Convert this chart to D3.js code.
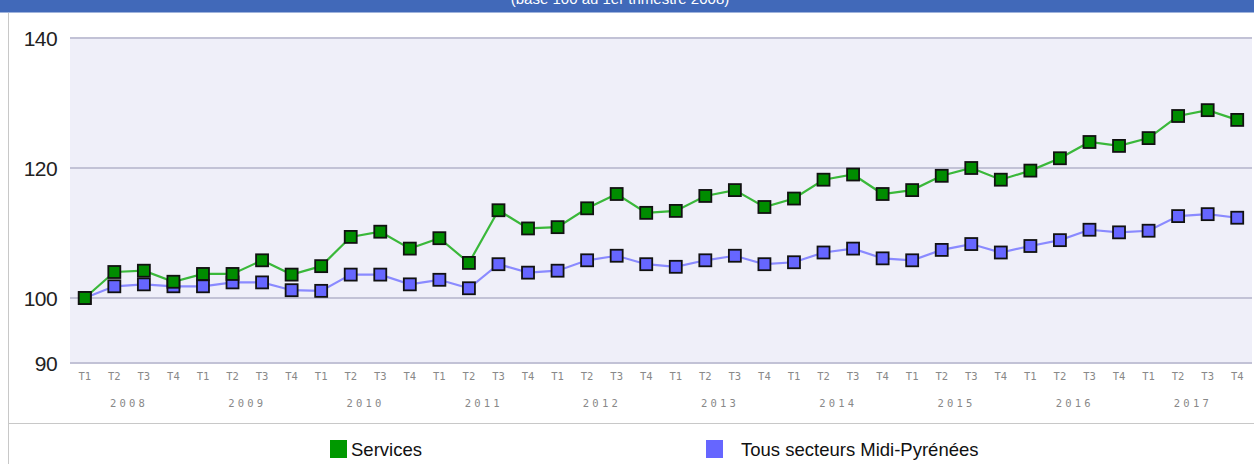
<!DOCTYPE html>
<html><head><meta charset="utf-8">
<script src="https://cdn.jsdelivr.net/npm/d3@7"></script>
<style>body{margin:0;background:#fff;}svg{display:block;}</style>
</head><body>
<svg id="c" width="1254" height="464"></svg>
<script>
const years = ["2008","2009","2010","2011","2012","2013","2014","2015","2016","2017"];
const quarters = ["T1","T2","T3","T4"];
const yTicks = [90,100,120,140];
const seriesNames = ["Services","Tous secteurs Midi-Pyrénées"];
const services = [100,104.0,104.2,102.5, 103.7,103.7,105.8,103.6, 104.9,109.4,110.2,107.6,
  109.2,105.4,113.5,110.7, 110.9,113.8,116.0,113.1, 113.4,115.7,116.6,114.0,
  115.3,118.2,119.0,116.0, 116.6,118.8,120.0,118.2, 119.6,121.5,124.0,123.4,
  124.6,128.0,128.9,127.4];
const tous = [100,101.8,102.1,101.8, 101.8,102.4,102.4,101.2, 101.1,103.6,103.6,102.1,
  102.8,101.5,105.2,103.9, 104.2,105.8,106.5,105.2, 104.8,105.8,106.5,105.2,
  105.5,107.0,107.6,106.1, 105.8,107.4,108.3,107.0, 108.0,108.9,110.5,110.1,
  110.35,112.6,112.9,112.35];
const title = "(base 100 au 1er trimestre 2008)";

const cats = [];
years.forEach(y => quarters.forEach(q => cats.push(y + "-" + q)));

const svg = d3.select("#c");
const W = 1254;
const L = 70, R = 1252, T = 38, B = 363;

// header
svg.append("rect").attr("x",0).attr("y",0).attr("width",W).attr("height",12).attr("fill","#4169b9");
svg.append("line").attr("x1",0).attr("x2",W).attr("y1",12.5).attr("y2",12.5).attr("stroke","#9fb3dc").attr("stroke-width",1);
svg.append("text").attr("x",620).attr("y",4).attr("text-anchor","middle")
  .attr("font-family","Liberation Sans, Arial, sans-serif").attr("font-size",15).attr("fill","#fff").text(title);

// borders
svg.append("line").attr("x1",8.5).attr("x2",8.5).attr("y1",13).attr("y2",464).attr("stroke","#c8c8c8");
svg.append("line").attr("x1",8).attr("x2",W).attr("y1",423.5).attr("y2",423.5).attr("stroke","#c8c8c8");

const x = d3.scaleBand().domain(cats).range([L, R]);
const y = d3.scaleLinear().domain([90,140]).range([B, T]);

svg.append("rect").attr("x",L).attr("y",T).attr("width",R-L).attr("height",B-T).attr("fill","#efeff9");

// grid
svg.append("g").selectAll("line").data(yTicks).join("line")
  .attr("x1",L).attr("x2",R).attr("y1",d=>y(d)).attr("y2",d=>y(d))
  .attr("stroke","#c2c2d6").attr("stroke-width",2);

// y labels
const yAxis = d3.axisLeft(y).tickValues(yTicks).tickSize(0).tickPadding(0);
const gy = svg.append("g").attr("transform",`translate(${L-13},0)`).call(yAxis);
gy.select(".domain").remove();
gy.selectAll("text").attr("font-family","Liberation Sans, Arial, sans-serif").attr("font-size",21)
  .attr("letter-spacing","-0.6").attr("fill","#222").attr("dy","0.35em");

// x labels
const xAxis = d3.axisBottom(x).tickSize(0).tickPadding(0).tickFormat(d => d.split("-")[1]);
const gx = svg.append("g").attr("transform",`translate(0,${B+13})`).call(xAxis);
gx.select(".domain").remove();
gx.selectAll("text").attr("font-family","DejaVu Sans Mono, monospace").attr("font-size",10.5).attr("fill","#888").attr("dy","0.35em");

svg.append("g").selectAll("text").data(years).join("text")
  .attr("x", d => (x(d+"-T2") + x(d+"-T3"))/2 + x.bandwidth()/2)
  .attr("y", 407)
  .attr("text-anchor","middle")
  .attr("font-family","DejaVu Sans Mono, monospace").attr("font-size",10.5).attr("fill","#888")
  .attr("letter-spacing","3.2")
  .text(d=>d);

const cx = i => x(cats[i]) + x.bandwidth()/2;
const line = d3.line().x((d,i)=>cx(i)).y(d=>y(d));

const series = [
  {vals: tous, line:"#8a8aff", fill:"#6666ff"},
  {vals: services, line:"#3ab83a", fill:"#008c00"}
];
series.forEach(s => {
  svg.append("path").datum(s.vals).attr("d",line).attr("fill","none")
    .attr("stroke",s.line).attr("stroke-width",2.2);
});
series.forEach(s => {
  svg.append("g").selectAll("rect").data(s.vals).join("rect")
    .attr("x",(d,i)=>cx(i)-6).attr("y",d=>y(d)-6).attr("width",12).attr("height",12)
    .attr("fill",s.fill).attr("stroke","#111").attr("stroke-width",1.8);
});

// legend
const leg = [
  {name: seriesNames[0], fill:"#009900", x:330, tx:351},
  {name: seriesNames[1], fill:"#6666ff", x:706, tx:741}
];
leg.forEach(l => {
  svg.append("rect").attr("x",l.x).attr("y",440).attr("width",17).attr("height",18).attr("fill",l.fill);
  svg.append("text").attr("x",l.tx).attr("y",456).attr("font-family","Liberation Sans, Arial, sans-serif")
    .attr("font-size",18.5).attr("fill","#111").text(l.name);
});
</script>
</body></html>
